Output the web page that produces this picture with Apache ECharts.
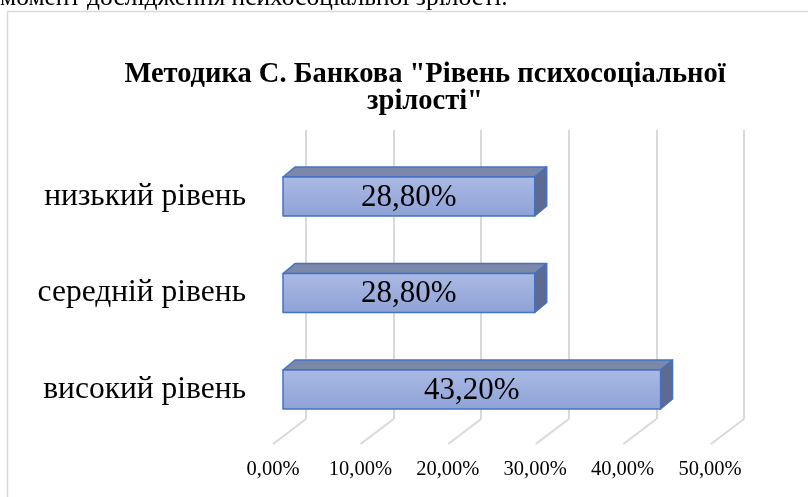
<!DOCTYPE html>
<html>
<head>
    <meta charset="utf-8">
    <title>Рівень психосоціальної зрілості</title>
    <script src="https://cdn.jsdelivr.net/npm/echarts@6/dist/echarts.min.js"></script>
    <style>
        html, body { margin: 0; padding: 0; background: #ffffff; }
        #chart { width: 808px; height: 497px; }
    </style>
</head>
<body>
<div id="chart"></div>
<script>
    // дані діаграми
    var categories = ['низький рівень', 'середній рівень', 'високий рівень'];
    var values = [0.288, 0.288, 0.432];
    var ticks = [0, 0.1, 0.2, 0.3, 0.4, 0.5];
    var titleText = 'Методика С. Банкова "Рівень психосоціальної\nзрілості"';
    var pageText = 'момент дослідження психосоціальної зрілості.';

    var serif = '"Liberation Serif", "Times New Roman", serif';
    var depthX = 12, depthY = -10;   // зсув задньої грані бару
    var floorX = -33, floorY = 25;   // підлога

    function pct(v) {
        return (v * 100).toFixed(2).replace('.', ',') + '%';
    }

    var chart = echarts.init(document.getElementById('chart'));
    var option = {
        animation: false,
        backgroundColor: '#ffffff',
        title: {
            text: titleText,
            left: 420,
            top: 56,
            textAlign: 'center',
            textStyle: {
                fontFamily: serif,
                fontWeight: 'bold',
                fontSize: 28.5,
                lineHeight: 27,
                color: '#000000'
            }
        },
        graphic: [
            {
                type: 'rect',
                shape: { x: 7.5, y: 11.5, width: 820, height: 520 },
                style: { fill: 'none', stroke: '#d9d9d9', lineWidth: 1.5 },
                z: -1
            },
            {
                type: 'text',
                x: 0,
                y: -2,
                style: { text: pageText, font: '25.5px ' + serif, fill: '#000000', verticalAlign: 'middle' }
            }
        ],
        grid: [
            { left: 283, right: 88, top: 148.25, bottom: 59.25 },
            { left: 306, right: 64, top: 130, bottom: 78 }
        ],
        xAxis: [
            {
                type: 'value', gridIndex: 0, min: 0, max: 0.5, interval: 0.1,
                axisLine: { show: false }, axisTick: { show: false },
                splitLine: { show: false },
                axisLabel: {
                    margin: 21,
                    formatter: function (v) { return pct(v); },
                    fontFamily: serif, fontSize: 20.5, color: '#000000',
                    padding: [0, 20, 0, 0]
                }
            },
            {
                type: 'value', gridIndex: 1, min: 0, max: 0.5, interval: 0.1,
                axisLine: { show: false }, axisTick: { show: false },
                axisLabel: { show: false },
                splitLine: { show: true, lineStyle: { color: '#d9d9d9', width: 2 } }
            }
        ],
        yAxis: [
            {
                type: 'category', gridIndex: 0, data: categories, inverse: true,
                axisLine: { show: false }, axisTick: { show: false },
                axisLabel: { margin: 37, fontFamily: serif, fontSize: 31.5, color: '#000000' }
            },
            {
                type: 'value', gridIndex: 1, min: 0, max: 1,
                axisLine: { show: false }, axisTick: { show: false },
                axisLabel: { show: false }, splitLine: { show: false }
            }
        ],
        series: [
            {
                // підлога
                type: 'custom',
                xAxisIndex: 1, yAxisIndex: 1,
                data: ticks.map(function (t) { return [t, 0]; }),
                renderItem: function (params, api) {
                    var p = api.coord([api.value(0), 0]);
                    return {
                        type: 'line',
                        shape: { x1: p[0], y1: p[1], x2: p[0] + floorX, y2: p[1] + floorY },
                        style: { stroke: '#d9d9d9', lineWidth: 2 }
                    };
                },
                silent: true
            },
            {
                type: 'custom',
                xAxisIndex: 0, yAxisIndex: 0,
                data: values.map(function (v, i) { return [v, i]; }),
                encode: { x: 0, y: 1 },
                renderItem: function (params, api) {
                    var v = api.value(0), i = api.value(1);
                    var p0 = api.coord([0, i]);
                    var p1 = api.coord([v, i]);
                    var h = api.size([0, 1])[1] * 0.404;
                    var top = p0[1] - h / 2;
                    var x0 = p0[0], x1 = p1[0];
                    var edge = { stroke: '#4472c4', lineWidth: 1.5, lineJoin: 'round' };
                    return {
                        type: 'group',
                        children: [
                            {
                                type: 'polygon',
                                shape: { points: [[x0, top], [x1, top], [x1 + depthX, top + depthY], [x0 + depthX, top + depthY]] },
                                style: Object.assign({ fill: '#7b88a8' }, edge)
                            },
                            {
                                type: 'polygon',
                                shape: { points: [[x1, top], [x1 + depthX, top + depthY], [x1 + depthX, top + h + depthY], [x1, top + h]] },
                                style: Object.assign({ fill: '#5d6a92' }, edge)
                            },
                            {
                                type: 'rect',
                                shape: { x: x0, y: top, width: x1 - x0, height: h },
                                style: Object.assign({
                                    fill: new echarts.graphic.LinearGradient(0, 0, 0, 1, [
                                        { offset: 0, color: '#abbae4' },
                                        { offset: 1, color: '#8ea2d7' }
                                    ])
                                }, edge)
                            },
                            {
                                type: 'text',
                                style: {
                                    text: pct(v),
                                    x: (x0 + x1) / 2,
                                    y: top + h / 2 + 1,
                                    align: 'center',
                                    verticalAlign: 'middle',
                                    font: '31px ' + serif,
                                    fill: '#000000'
                                }
                            }
                        ]
                    };
                }
            }
        ]
    };
    chart.setOption(option);

    window.onresize = function () {
        chart.resize();
    };
</script>
</body>
</html>
